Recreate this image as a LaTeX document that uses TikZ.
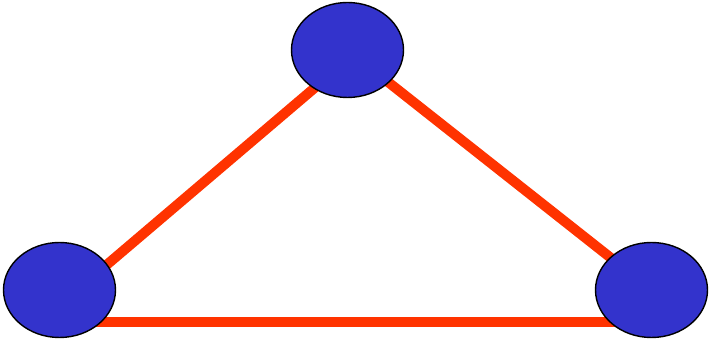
\documentclass[tikz,border=0pt]{standalone}
\usepackage{xcolor}
\usepackage{tikz}
\usetikzlibrary{shapes.geometric,backgrounds}
\definecolor{dotblue}{HTML}{3333CC}
\definecolor{edgered}{HTML}{FF3300}

\begin{document}
\begin{tikzpicture}[
  vert/.style={ellipse,draw=black,fill=dotblue,line width=1.2pt,
               minimum width=3.36cm,minimum height=2.85cm,inner sep=0pt},
  link/.style={edgered,line width=0.3cm}
]
\useasboundingbox (0,0) rectangle (21.33,10.26);
\node[vert] (top)   at (10.425,8.76) {};
\node[vert] (left)  at (1.785,1.56)  {};
\node[vert] (right) at (19.545,1.56) {};
\begin{scope}[on background layer]
\draw[link] ([yshift=-0.45cm]left.center) -- ([xshift=0.35cm]top.center);
\draw[link] (top.center) -- (right.center);
\draw[link] ([yshift=-0.96cm]left.center) -- ([yshift=-0.96cm]right.center);
\end{scope}
\end{tikzpicture}
\end{document}
